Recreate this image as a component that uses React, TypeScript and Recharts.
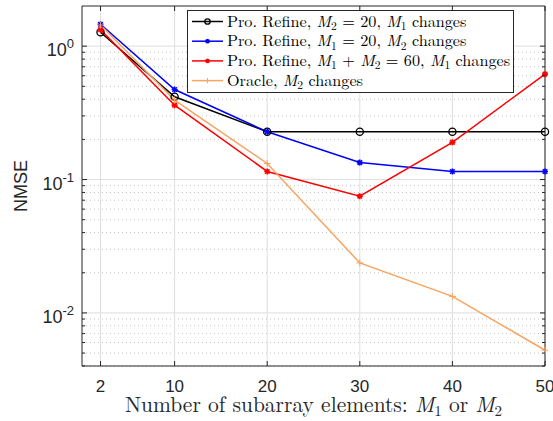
import { Legend, Line, LineChart, ReferenceLine, XAxis, YAxis } from "recharts"

// NMSE vs number of subarray elements (x = M1 or M2)
const subarraySizes = [2, 10, 20, 30, 40, 50]
const refineM2Fixed = [1.27, 0.417, 0.228, 0.228, 0.228, 0.228]
const refineM1Fixed = [1.46, 0.473, 0.228, 0.134, 0.115, 0.115]
const refineSum60 = [1.33, 0.361, 0.115, 0.075, 0.19, 0.617]
const oracleM2 = [1.44, 0.394, 0.132, 0.0237, 0.0133, 0.00525]

const xTicks = [2, 10, 20, 30, 40, 50]
const yMajorTicks = [0.01, 0.1, 1]
const yMinorTicks = [
  0.004, 0.005, 0.006, 0.007, 0.008, 0.009,
  0.02, 0.03, 0.04, 0.05, 0.06, 0.07, 0.08, 0.09,
  0.2, 0.3, 0.4, 0.5, 0.6, 0.7, 0.8, 0.9,
]

const data = subarraySizes.map((x, i) => ({
  x,
  m2Fixed: refineM2Fixed[i],
  m1Fixed: refineM1Fixed[i],
  sum60: refineSum60[i],
  oracle: oracleM2[i],
}))

const AXIS = "#262626"
const SANS = "Helvetica, Arial, 'Liberation Sans', sans-serif"
const SERIF = "'Latin Modern Roman', 'CMU Serif', 'Liberation Serif', serif"
const BLUE = "#0000ff"
const RED = "#ff0000"
const ORANGE = "#f9a45f"

// math-ish label pieces: plain text, italic symbol, subscript
type Seg = { t: string; it?: boolean; sub?: boolean }

function MathText({ segs, subSize }: { segs: Seg[]; subSize: number }) {
  let lowered = false
  return (
    <>
      {segs.map((s, i) => {
        let dy = 0
        if (s.sub && !lowered) dy = 3.5
        if (!s.sub && lowered) dy = -3.5
        lowered = !!s.sub
        return (
          <tspan
            key={i}
            dy={dy || undefined}
            fontStyle={s.it ? "italic" : undefined}
            fontSize={s.sub ? subSize : undefined}
          >
            {s.t}
          </tspan>
        )
      })}
    </>
  )
}

const isMajor = (v: number) => Math.abs(Math.log10(v) - Math.round(Math.log10(v))) < 1e-6

function LeftTick({ x, y, payload }: any) {
  const v = payload.value
  const major = isMajor(v)
  return (
    <g>
      <line x1={x} x2={x + (major ? 5 : 3)} y1={y} y2={y} stroke={AXIS} />
      {major && (
        <text x={x - 8} y={y + 10} textAnchor="end" fontSize={18} fill={AXIS} fontFamily={SANS}>
          10
          <tspan dy={-8} fontSize={13}>
            {Math.round(Math.log10(v))}
          </tspan>
        </text>
      )}
    </g>
  )
}

function RightTick({ x, y, payload }: any) {
  const major = isMajor(payload.value)
  return <line x1={x} x2={x - (major ? 5 : 3)} y1={y} y2={y} stroke={AXIS} />
}

function BottomTick({ x, y, payload }: any) {
  return (
    <g>
      <line x1={x} x2={x} y1={y} y2={y - 5} stroke={AXIS} />
      <text x={x} y={y + 26} textAnchor="middle" fontSize={17} fill={AXIS} fontFamily={SANS}>
        {payload.value}
      </text>
    </g>
  )
}

function TopTick({ x, y }: any) {
  return <line x1={x} x2={x} y1={y} y2={y + 5} stroke={AXIS} />
}

const xTitle: Seg[] = [
  { t: "Number of subarray elements: " },
  { t: "M", it: true },
  { t: "1", sub: true },
  { t: " or " },
  { t: "M", it: true },
  { t: "2", sub: true },
]

function XTitle({ viewBox }: any) {
  const cx = viewBox.x + viewBox.width / 2
  return (
    <text x={cx} y={412} textAnchor="middle" fontSize={21.5} fill={AXIS} fontFamily={SERIF}>
      <MathText segs={xTitle} subSize={15} />
    </text>
  )
}

function YTitle() {
  return (
    <text
      x={0}
      y={0}
      transform="translate(27 186) rotate(-90)"
      textAnchor="middle"
      fontSize={18}
      fill={AXIS}
      fontFamily={SANS}
    >
      NMSE
    </text>
  )
}

type Shape = "circle" | "star" | "plus"

function Marker({
  cx,
  cy,
  color,
  shape,
  size = 1,
}: {
  cx: number
  cy: number
  color: string
  shape: Shape
  size?: number
}) {
  if (cx == null || cy == null) return null
  if (shape === "circle") {
    return <circle cx={cx} cy={cy} r={3.6 * size} fill="none" stroke={color} strokeWidth={1.3} />
  }
  if (shape === "plus") {
    const s = 3.5 * size
    return (
      <g stroke={color} strokeWidth={1}>
        <line x1={cx - s} x2={cx + s} y1={cy} y2={cy} />
        <line x1={cx} x2={cx} y1={cy - s} y2={cy + s} />
      </g>
    )
  }
  const s = 3 * size
  return (
    <g stroke={color} strokeWidth={1.6}>
      <line x1={cx - s} x2={cx + s} y1={cy} y2={cy} />
      <line x1={cx} x2={cx} y1={cy - s} y2={cy + s} />
      <line x1={cx - s * 0.75} x2={cx + s * 0.75} y1={cy - s * 0.75} y2={cy + s * 0.75} />
      <line x1={cx - s * 0.75} x2={cx + s * 0.75} y1={cy + s * 0.75} y2={cy - s * 0.75} />
    </g>
  )
}

const series: { key: string; color: string; shape: Shape; label: Seg[] }[] = [
  {
    key: "m2Fixed",
    color: "#000000",
    shape: "circle",
    label: [
      { t: "Pro. Refine, " },
      { t: "M", it: true },
      { t: "2", sub: true },
      { t: " = 20, " },
      { t: "M", it: true },
      { t: "1", sub: true },
      { t: " changes" },
    ],
  },
  {
    key: "m1Fixed",
    color: BLUE,
    shape: "star",
    label: [
      { t: "Pro. Refine, " },
      { t: "M", it: true },
      { t: "1", sub: true },
      { t: " = 20, " },
      { t: "M", it: true },
      { t: "2", sub: true },
      { t: " changes" },
    ],
  },
  {
    key: "sum60",
    color: RED,
    shape: "star",
    label: [
      { t: "Pro. Refine, " },
      { t: "M", it: true },
      { t: "1", sub: true },
      { t: " + " },
      { t: "M", it: true },
      { t: "2", sub: true },
      { t: " = 60, " },
      { t: "M", it: true },
      { t: "1", sub: true },
      { t: " changes" },
    ],
  },
  {
    key: "oracle",
    color: ORANGE,
    shape: "plus",
    label: [{ t: "Oracle, " }, { t: "M", it: true }, { t: "2", sub: true }, { t: " changes" }],
  },
]

function LegendBox() {
  return (
    <svg width={327} height={83} style={{ display: "block" }}>
      <rect x={0.5} y={0.5} width={326} height={82} fill="#ffffff" stroke={AXIS} strokeWidth={1} />
      {series.map((s, i) => {
        const cy = 11.5 + i * 19.7
        return (
          <g key={s.key}>
            <line x1={5} x2={36} y1={cy} y2={cy} stroke={s.color} strokeWidth={1.5} />
            <Marker cx={20.5} cy={cy} color={s.color} shape={s.shape} size={0.75} />
            <text x={40} y={cy + 5} fontSize={16.2} fill="#000" fontFamily={SERIF}>
              <MathText segs={s.label} subSize={11.5} />
            </text>
          </g>
        )
      })}
    </svg>
  )
}

export default function App() {
  return (
    <div style={{ position: "absolute", left: 0, top: 0, width: 553, height: 421, background: "#fff" }}>
      <LineChart width={553} height={421} data={data} margin={{ top: 0, right: 0, bottom: 0, left: 0 }}>
        <XAxis
          xAxisId="b"
          dataKey="x"
          type="number"
          domain={[0, 50]}
          ticks={xTicks}
          height={55}
          tickSize={0}
          tickMargin={0}
          tick={<BottomTick />}
          tickLine={false}
          axisLine={{ stroke: AXIS }}
          label={<XTitle />}
        />
        <XAxis
          xAxisId="t"
          orientation="top"
          dataKey="x"
          type="number"
          domain={[0, 50]}
          ticks={xTicks}
          height={6}
          tickSize={0}
          tickMargin={0}
          tick={<TopTick />}
          tickLine={false}
          axisLine={{ stroke: AXIS }}
        />
        <YAxis
          yAxisId="l"
          scale="log"
          domain={[0.004, 2]}
          allowDataOverflow
          ticks={[...yMinorTicks, ...yMajorTicks]}
          interval={0}
          width={82}
          tickSize={0}
          tickMargin={0}
          tick={<LeftTick />}
          tickLine={false}
          axisLine={{ stroke: AXIS }}
          label={<YTitle />}
        />
        <YAxis
          yAxisId="r"
          orientation="right"
          scale="log"
          domain={[0.004, 2]}
          allowDataOverflow
          ticks={[...yMinorTicks, ...yMajorTicks]}
          interval={0}
          width={8}
          tickSize={0}
          tickMargin={0}
          tick={<RightTick />}
          tickLine={false}
          axisLine={{ stroke: AXIS }}
        />
        {yMinorTicks.map((v) => (
          <ReferenceLine
            key={`mn${v}`}
            xAxisId="b"
            yAxisId="l"
            y={v}
            stroke="#c4c4c4"
            strokeDasharray="1 3"
          />
        ))}
        {yMajorTicks.map((v) => (
          <ReferenceLine key={`mj${v}`} xAxisId="b" yAxisId="l" y={v} stroke="#dedede" />
        ))}
        {xTicks.map((v) => (
          <ReferenceLine key={`x${v}`} xAxisId="b" yAxisId="l" x={v} stroke="#dedede" />
        ))}
        {series.map((s) => (
          <Line
            key={s.key}
            xAxisId="b"
            yAxisId="l"
            dataKey={s.key}
            type="linear"
            stroke={s.color}
            strokeWidth={1.5}
            isAnimationActive={false}
            dot={(p: any) => (
              <Marker key={`${s.key}${p.index}`} cx={p.cx} cy={p.cy} color={s.color} shape={s.shape} />
            )}
            activeDot={false}
          />
        ))}
        <Legend
          layout="vertical"
          align="center"
          verticalAlign="middle"
          wrapperStyle={{ left: 187, top: 10, width: 327, height: 83 }}
          content={() => <LegendBox />}
        />
      </LineChart>
    </div>
  )
}
